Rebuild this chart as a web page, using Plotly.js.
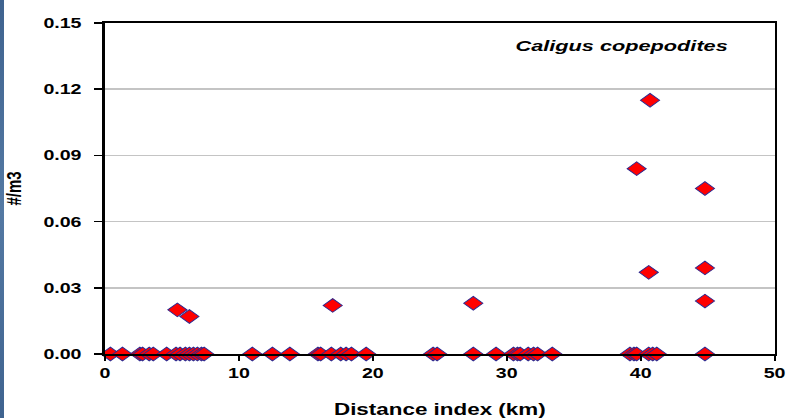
<!DOCTYPE html>
<html>
<head>
<meta charset="utf-8">
<script src="https://cdn.plot.ly/plotly-3.0.1.min.js"></script>
<style>
  html, body { margin: 0; padding: 0; background: #ffffff; overflow: hidden; }
  #wrap { position: absolute; left: 0; top: 0; width: 564px; height: 418px;
          transform: scaleX(1.4007); transform-origin: 0 0; }
  #band { position: absolute; left: 0; top: 0; width: 4px; height: 418px;
          background: linear-gradient(180deg, #3f638f, #5479a3 50%, #3f638f); }
</style>
</head>
<body>
<div id="wrap"><div id="plot"></div></div>
<div id="band"></div>
<script>
// Distance index (km) and density (#/m3)
const distanceKm = [
  0.4, 1.3, 2.6, 2.8, 3.3, 3.6, 4.6, 5.3, 5.4, 5.6, 6.0, 6.3, 6.3, 6.6, 6.9, 7.2, 7.4,
  11.0, 12.5, 13.8, 15.9, 16.1, 16.9, 17.0, 17.6, 18.0, 18.4, 19.5,
  24.5, 24.8, 27.5, 27.5, 29.2, 30.5, 30.8, 31.0, 31.6, 32.0, 32.3, 33.4,
  39.2, 39.5, 39.7, 39.7, 40.6, 40.6, 40.7, 40.9, 41.2,
  44.8, 44.8, 44.8, 44.8
];
const densityPerM3 = [
  0, 0, 0, 0, 0, 0, 0, 0, 0.020, 0, 0, 0, 0.017, 0, 0, 0, 0,
  0, 0, 0, 0, 0, 0, 0.022, 0, 0, 0, 0,
  0, 0, 0, 0.023, 0, 0, 0, 0, 0, 0, 0, 0,
  0, 0, 0, 0.084, 0, 0.037, 0.115, 0, 0,
  0, 0.024, 0.039, 0.075
];
const xTickVals = [0, 10, 20, 30, 40, 50];
const yTickVals = [0, 0.03, 0.06, 0.09, 0.12, 0.15];
const seriesLabel = 'Caligus copepodites';
const xLabel = 'Distance index (km)';
const yLabel = '#/m3';

const FONT = 'Liberation Sans, Arial, sans-serif';

const trace = {
  type: 'scatter',
  mode: 'markers',
  x: distanceKm,
  y: densityPerM3,
  name: seriesLabel,
  marker: {
    symbol: 'diamond',
    size: 10.5,
    color: '#ff0000',
    line: { color: '#2a2890', width: 0.8 }
  },
  cliponaxis: false,
  hoverinfo: 'x+y'
};

const layout = {
  width: 564,
  height: 418,
  margin: { l: 75, r: 11, t: 23, b: 64 },
  paper_bgcolor: '#ffffff',
  plot_bgcolor: '#ffffff',
  showlegend: false,
  font: { family: FONT, color: '#000000' },
  xaxis: {
    range: [0, 50],
    tickvals: xTickVals,
    ticks: 'outside',
    ticklen: 5,
    tickwidth: 1.5,
    tickcolor: '#000000',
    showline: true,
    linecolor: '#000000',
    linewidth: 2,
    mirror: true,
    showgrid: false,
    zeroline: false,
    tickfont: { family: FONT, size: 14, color: '#000000', weight: 700 },
    title: { text: xLabel, font: { family: FONT, size: 16, color: '#000000', weight: 700 }, standoff: 25 }
  },
  yaxis: {
    range: [0, 0.15],
    tickvals: yTickVals,
    tickformat: '.2f',
    ticks: 'outside',
    ticklen: 6,
    tickwidth: 1.5,
    tickcolor: '#000000',
    ticklabelstandoff: 6,
    showline: true,
    linecolor: '#000000',
    linewidth: 2,
    mirror: true,
    showgrid: true,
    gridcolor: '#c4c4c4',
    gridwidth: 1.5,
    zeroline: false,
    tickfont: { family: FONT, size: 14, color: '#000000', weight: 700 },
    title: { text: yLabel, font: { family: FONT, size: 15, color: '#000000', weight: 700 }, standoff: 12 }
  },
  annotations: [{
    text: seriesLabel,
    xref: 'paper', yref: 'paper',
    x: 0.771, y: 0.933,
    xanchor: 'center', yanchor: 'middle',
    showarrow: false,
    font: { family: FONT, size: 15.5, color: '#000000', weight: 700, style: 'italic' }
  }]
};

Plotly.newPlot('plot', [trace], layout, { displayModeBar: false, staticPlot: true });
</script>
</body>
</html>
